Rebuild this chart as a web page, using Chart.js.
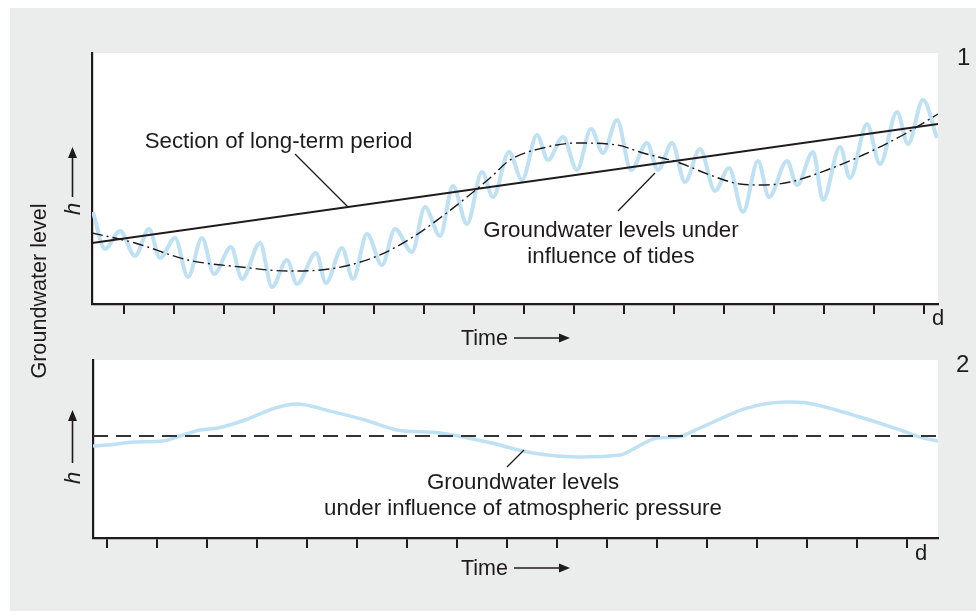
<!DOCTYPE html>
<html>
<head>
<meta charset="utf-8">
<script src="https://cdn.jsdelivr.net/npm/chart.js@4.4.0/dist/chart.umd.min.js"></script>
<style>
  html, body { margin: 0; padding: 0; background: #fff; }
  #wrap { position: relative; width: 976px; height: 611px; overflow: hidden; }
  #bg { position: absolute; left: 10px; top: 8px; width: 966px; height: 603px; background: #ebecec; }
  canvas { position: absolute; left: 0; top: 0; }
</style>
</head>
<body>
<div id="wrap">
  <div id="bg"></div>
  <canvas id="tides" width="976" height="611"></canvas>
  <canvas id="pressure" width="976" height="611"></canvas>
</div>
<script>
// tick marks on both time axes (days)
const tickDays = [0, 1, 2, 3, 4, 5, 6, 7, 8, 9, 10, 11, 12, 13, 14, 15, 16];

// panel 1 - groundwater under influence of tides (h in relative units)
const tideDays = [-0.62, -0.38, -0.08, 0.22, 0.50, 0.72, 1.02, 1.28, 1.56, 1.80, 2.14, 2.36, 2.72, 2.96,
  3.26, 3.46, 3.84, 4.04, 4.36, 4.58, 4.86, 5.16, 5.42, 5.76, 6.02, 6.32, 6.58, 6.86, 7.16, 7.38,
  7.70, 7.96, 8.26, 8.48, 8.78, 9.06, 9.34, 9.58, 9.86, 10.14, 10.46, 10.68, 10.96, 11.22, 11.52,
  11.82, 12.10, 12.38, 12.68, 12.90, 13.26, 13.46, 13.78, 13.98, 14.32, 14.52, 14.86, 15.12, 15.46,
  15.68, 15.98, 16.26];
const tideLevels = [3.68, 2.20, 2.92, 1.92, 3.00, 1.84, 2.64, 1.08, 2.64, 1.20, 2.28, 1.00, 2.44, 0.68,
  1.76, 0.80, 2.04, 0.84, 2.24, 1.00, 2.80, 1.56, 3.00, 2.08, 3.88, 2.72, 4.72, 3.20, 5.28, 4.28,
  6.08, 4.96, 6.76, 5.76, 6.68, 5.36, 7.00, 6.04, 7.36, 5.36, 6.44, 5.36, 6.44, 4.88, 6.20,
  4.52, 5.44, 3.68, 5.72, 4.28, 5.72, 4.76, 6.08, 4.16, 6.28, 5.04, 7.20, 5.60, 7.68,
  6.40, 8.16, 6.64];

// mean course without the tidal signal (dash-dot)
const meanDays = [-0.64, 0.22, 1.28, 2.34, 3.28, 3.94, 5.02, 5.78, 6.32, 6.86, 7.32, 7.72, 8.46,
  9.06, 9.86, 10.38, 11.12, 11.72, 12.32, 12.78, 13.32, 14.06, 14.78, 15.58, 16.28];
const meanLevels = [2.84, 2.44, 1.76, 1.48, 1.32, 1.36, 1.88, 2.68, 3.44, 4.28, 5.04, 5.76, 6.28,
  6.44, 6.36, 6.04, 5.64, 5.16, 4.80, 4.76, 4.88, 5.36, 5.96, 6.76, 7.60];

// section of long-term period
const trendDays = [-0.64, 16.28];
const trendLevels = [2.44, 7.20];

// panel 2 - groundwater under influence of atmospheric pressure
const pressDays = [-0.28, 0, 0.56, 1.12, 1.46, 1.86, 2.22, 2.76, 3.36, 3.80, 4.46, 5.16, 5.80, 6.66,
  7.60, 8.52, 9.46, 10.26, 10.60, 11.00, 11.40, 11.86, 12.80, 13.60, 14.00, 14.92, 15.86, 16.26, 16.62];
const pressLevels = [5.17, 5.22, 5.39, 5.45, 5.73, 6.07, 6.18, 6.63, 7.30, 7.53, 7.13, 6.63, 6.07, 5.90,
  5.39, 4.78, 4.55, 4.66, 5.11, 5.62, 5.67, 6.18, 7.30, 7.64, 7.58, 6.91, 6.07, 5.67, 5.45];
const baseDays = [-0.28, 16.62];
const baseLevels = [5.73, 5.73];

const INK = '#1f1b1c';
const BLUE = '#bfe1f4';
const FONT = '"Liberation Sans", Arial, sans-serif';
Chart.defaults.font.family = FONT;

const pts = (xs, ys) => xs.map((x, i) => ({ x: x, y: ys[i] }));

function panelOptions(xMin, xMax, yMax, pad) {
  return {
    responsive: false,
    animation: false,
    events: [],
    layout: { padding: pad },
    plugins: { legend: { display: false }, tooltip: { enabled: false } },
    elements: { point: { radius: 0 } },
    scales: {
      x: {
        type: 'linear', min: xMin, max: xMax,
        afterBuildTicks: s => { s.ticks = tickDays.map(v => ({ value: v })); },
        afterFit: s => { s.height = 10; },
        grid: { drawOnChartArea: false, drawTicks: true, tickLength: 10, color: INK, lineWidth: 2 },
        border: { display: true, color: INK, width: 2.2 },
        ticks: { display: false }
      },
      y: {
        min: 0, max: yMax,
        afterFit: s => { s.width = 0; },
        grid: { display: false },
        border: { display: true, color: INK, width: 2.2 },
        ticks: { display: false }
      }
    }
  };
}

// helpers for the labels
function at(chart, d, h) {
  return [chart.scales.x.getPixelForValue(d), chart.scales.y.getPixelForValue(h)];
}
function label(ctx, str, x, y, align, size, style) {
  ctx.font = (style || '') + ' ' + size + 'px ' + FONT;
  ctx.textAlign = align;
  ctx.textBaseline = 'alphabetic';
  ctx.fillStyle = INK;
  ctx.fillText(str, x, y);
}
function vlabel(ctx, str, x, y, size, style) {
  ctx.save();
  ctx.translate(x, y);
  ctx.rotate(-Math.PI / 2);
  label(ctx, str, 0, 0, 'center', size, style);
  ctx.restore();
}
function leader(ctx, a, b) {
  ctx.beginPath();
  ctx.moveTo(a[0], a[1]);
  ctx.lineTo(b[0], b[1]);
  ctx.lineWidth = 1.3;
  ctx.strokeStyle = INK;
  ctx.stroke();
}
function arrow(ctx, x1, y1, x2, y2) {
  const ang = Math.atan2(y2 - y1, x2 - x1);
  const len = 11, half = 4.5;
  const bx = x2 - len * Math.cos(ang), by = y2 - len * Math.sin(ang);
  ctx.strokeStyle = INK;
  ctx.lineWidth = 1.6;
  ctx.beginPath(); ctx.moveTo(x1, y1); ctx.lineTo(bx, by); ctx.stroke();
  ctx.beginPath();
  ctx.moveTo(x2, y2);
  ctx.lineTo(bx + half * Math.sin(ang), by - half * Math.cos(ang));
  ctx.lineTo(bx - half * Math.sin(ang), by + half * Math.cos(ang));
  ctx.closePath();
  ctx.fillStyle = INK;
  ctx.fill();
}

const whiteArea = {
  id: 'whiteArea',
  beforeDraw(chart) {
    const a = chart.chartArea, ctx = chart.ctx;
    ctx.save();
    ctx.fillStyle = '#ffffff';
    ctx.fillRect(a.left, a.top, a.right - a.left, a.bottom - a.top);
    ctx.restore();
  }
};

const tideLabels = {
  id: 'tideLabels',
  afterDraw(chart) {
    const ctx = chart.ctx, a = chart.chartArea;
    ctx.save();
    let p = at(chart, 3.09, 6.24);
    label(ctx, 'Section of long-term period', p[0], p[1], 'center', 22.3);
    leader(ctx, at(chart, 3.42, 6.0), at(chart, 4.48, 3.88));
    p = at(chart, 9.74, 2.68);
    label(ctx, 'Groundwater levels under', p[0], p[1], 'center', 22.3);
    p = at(chart, 9.74, 1.64);
    label(ctx, 'influence of tides', p[0], p[1], 'center', 22.3);
    leader(ctx, at(chart, 9.88, 3.72), at(chart, 10.62, 5.24));

    label(ctx, 'Time', a.left + 369, a.bottom + 41, 'left', 21.5);
    arrow(ctx, a.left + 422, a.bottom + 34, a.left + 478, a.bottom + 34);
    label(ctx, 'd', a.right - 6, a.bottom + 21, 'left', 22);
    label(ctx, '1', a.right + 19, a.top + 12, 'left', 24);

    vlabel(ctx, 'h', a.left - 12, 209, 22, 'italic');
    arrow(ctx, 72.5, 197, 72.5, 147);
    vlabel(ctx, 'Groundwater level', 46, 291, 21.6);
    ctx.restore();
  }
};

const pressLabels = {
  id: 'pressLabels',
  afterDraw(chart) {
    const ctx = chart.ctx, a = chart.chartArea;
    ctx.save();
    let p = at(chart, 8.32, 2.75);
    label(ctx, 'Groundwater levels', p[0], p[1], 'center', 22.3);
    p = at(chart, 8.32, 1.29);
    label(ctx, 'under influence of atmospheric pressure', p[0], p[1], 'center', 22.3);
    leader(ctx, at(chart, 8.0, 3.99), at(chart, 8.34, 4.94));

    label(ctx, 'Time', a.left + 368, a.bottom + 37, 'left', 21.5);
    arrow(ctx, a.left + 421, a.bottom + 30, a.left + 477, a.bottom + 30);
    label(ctx, 'd', a.right - 23, a.bottom + 22, 'left', 22);
    label(ctx, '2', a.right + 18, a.top + 12, 'left', 24);

    vlabel(ctx, 'h', a.left - 13, 478, 22, 'italic');
    arrow(ctx, 72.5, 463, 72.5, 410);
    ctx.restore();
  }
};

new Chart(document.getElementById('tides'), {
  type: 'line',
  data: {
    datasets: [
      { data: pts(trendDays, trendLevels), borderColor: INK, borderWidth: 2.2, order: 1 },
      { data: pts(meanDays, meanLevels), borderColor: INK, borderWidth: 1.4, borderDash: [11, 4, 2, 4],
        cubicInterpolationMode: 'monotone', order: 2 },
      { data: pts(tideDays, tideLevels), borderColor: BLUE, borderWidth: 4,
        cubicInterpolationMode: 'monotone', order: 3 }
    ]
  },
  options: panelOptions(-0.64, 16.28, 10.04, { left: 92, top: 53, right: 38, bottom: 297 }),
  plugins: [whiteArea, tideLabels]
});

new Chart(document.getElementById('pressure'), {
  type: 'line',
  data: {
    datasets: [
      { data: pts(baseDays, baseLevels), borderColor: '#333333', borderWidth: 2, borderDash: [15, 8], order: 1 },
      { data: pts(pressDays, pressLevels), borderColor: BLUE, borderWidth: 3.5,
        cubicInterpolationMode: 'monotone', order: 2 }
    ]
  },
  options: panelOptions(-0.28, 16.62, 10, { left: 93, top: 360, right: 38, bottom: 63 }),
  plugins: [whiteArea, pressLabels]
});
</script>
</body>
</html>
